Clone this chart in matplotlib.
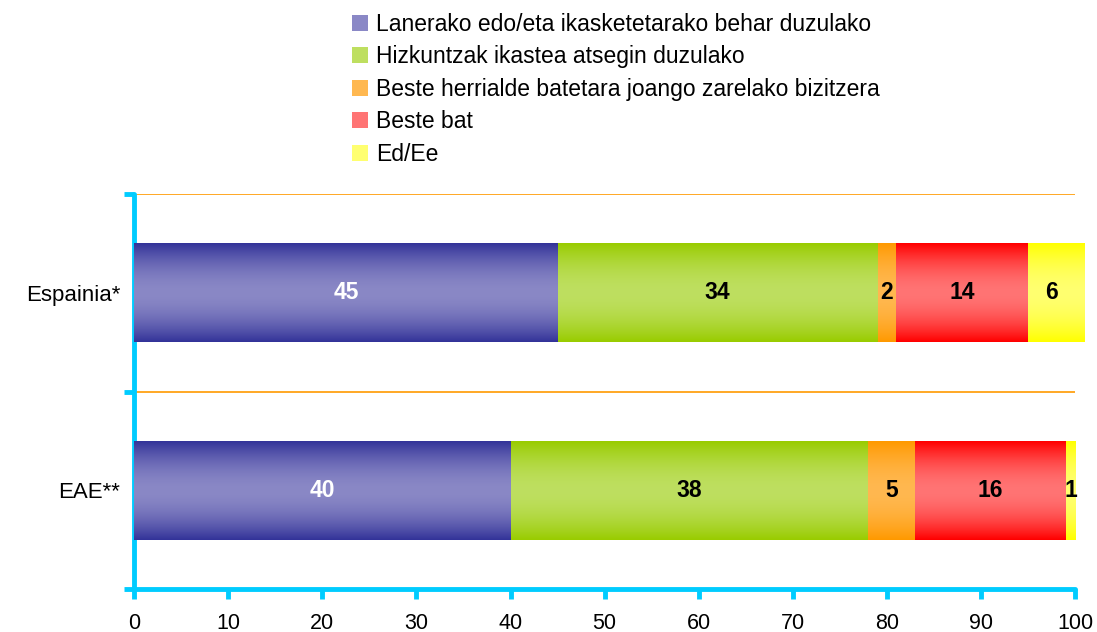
import numpy as np
import matplotlib.pyplot as plt
from matplotlib.colors import to_rgb

plt.rcParams['font.family'] = ['Liberation Sans', 'DejaVu Sans']

categories = ['EAE**', 'Espainia*']
series_names = ['Lanerako edo/eta ikasketetarako behar duzulako',
                'Hizkuntzak ikastea atsegin duzulako',
                'Beste herrialde batetara joango zarelako bizitzera',
                'Beste bat',
                'Ed/Ee']
values = [
    [40, 45],
    [38, 34],
    [5, 2],
    [16, 14],
    [1, 6],
]
edge_cols = ['#333399', '#99CC00', '#FF9900', '#FF0000', '#FFFF00']
mid_cols = ['#8A88C6', '#BEDF60', '#FFB850', '#FF7474', '#FFFF70']
label_cols = ['white', 'black', 'black', 'black', 'black']
xticks = [0, 10, 20, 30, 40, 50, 60, 70, 80, 90, 100]

fig = plt.figure(figsize=(10.97, 6.32), dpi=100)
ax = fig.add_axes([0.1222, 0.068, 0.858, 0.625])

y = np.arange(len(categories))
left = np.zeros(len(categories))
bar_h = 0.5
handles = []
for i, vals in enumerate(values):
    bars = ax.barh(y, vals, left=left, height=bar_h, color=mid_cols[i],
                   linewidth=0, clip_on=False, zorder=2)
    handles.append(bars)
    # vertical gradient: dark edges, light center
    t = np.abs(np.linspace(-1, 1, 100)) ** 1.8
    e, m = np.array(to_rgb(edge_cols[i])), np.array(to_rgb(mid_cols[i]))
    grad = (m[None, :] * (1 - t[:, None]) + e[None, :] * t[:, None])[:, None, :]
    for b in bars:
        x0, y0 = b.get_x(), b.get_y()
        im = ax.imshow(grad, extent=(x0, x0 + b.get_width(), y0, y0 + b.get_height()),
                       aspect='auto', interpolation='bilinear', zorder=3, clip_on=False)
        im.set_clip_path(b)
    ax.bar_label(bars, labels=[str(v) for v in vals], label_type='center',
                 color=label_cols[i], fontsize=16.5, fontweight='bold', zorder=5)
    left = left + np.array(vals)

ax.set_xlim(0, 100)
ax.set_ylim(-0.5, 1.5)
for g in [0.5, 1.5]:
    ax.axhline(g, color='#FF9900', linewidth=1.2, zorder=1)

ax.set_xticks(xticks)
ax.set_yticks([-0.5, 0.5, 1.5])
ax.set_yticklabels([])
ax.set_yticks(y, minor=True)
ax.set_yticklabels(categories, minor=True, fontsize=16)
ax.tick_params(axis='y', which='minor', length=0, pad=10)
ax.tick_params(axis='y', which='major', length=7, width=3.5, color='#00CCFF')
ax.tick_params(axis='x', length=7, width=3.5, color='#00CCFF', labelsize=15.5, pad=10)

for s in ['top', 'right']:
    ax.spines[s].set_visible(False)
for s in ['left', 'bottom']:
    ax.spines[s].set_color('#00CCFF')
    ax.spines[s].set_linewidth(3.5)
    ax.spines[s].set_capstyle('round')

fig.legend(handles, series_names, loc='upper left', bbox_to_anchor=(0.309, 1.0),
           frameon=False, fontsize=16.5, handlelength=0.7, handleheight=0.7,
           handletextpad=0.35, labelspacing=0.42, borderaxespad=0.15)

fig.savefig('out.png', dpi=100)
